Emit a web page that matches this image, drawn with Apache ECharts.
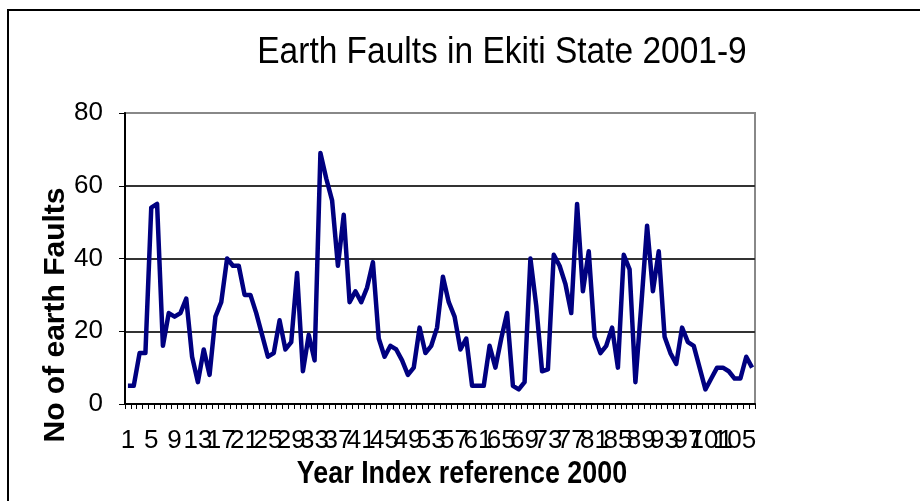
<!DOCTYPE html>
<html>
<head>
<meta charset="utf-8">
<script src="https://cdn.jsdelivr.net/npm/echarts@6/dist/echarts.min.js"></script>
<style>
html,body{margin:0;padding:0;background:#fff;}
#chart{width:920px;height:501px;}
</style>
</head>
<body>
<div id="chart"></div>
<script>
var titleText = 'Earth Faults in Ekiti State 2001-9';
var xAxisTitle = 'Year Index reference 2000';
var yAxisTitle = 'No of earth Faults';
var categories = [1,2,3,4,5,6,7,8,9,10,11,12,13,14,15,16,17,18,19,20,21,22,23,24,25,26,27,28,29,30,
  31,32,33,34,35,36,37,38,39,40,41,42,43,44,45,46,47,48,49,50,51,52,53,54,55,56,57,58,59,60,
  61,62,63,64,65,66,67,68,69,70,71,72,73,74,75,76,77,78,79,80,81,82,83,84,85,86,87,88,89,90,
  91,92,93,94,95,96,97,98,99,100,101,102,103,104,105,106,107,108];
var faults = [5,5,14,14,54,55,16,25,24,25,29,13,6,15,8,24,28,40,38,38,
  30,30,25,19,13,14,23,15,17,36,9,19,12,69,62,56,38,52,28,31,
  28,32,39,18,13,16,15,12,8,10,21,14,16,21,35,28,24,15,18,5,
  5,5,16,10,18,25,5,4,6,40,27,9,9.5,41,38,33,25,55,31,42,
  18.5,14,16,21,10,41,37,6,27,49,31,42,18.5,14,11,21,17,16,10,4,
  7,10,10,9,7,7,13,10];
var yTicks = [0,20,40,60,80];
var labelEvery = 4;

var chart = echarts.init(document.getElementById('chart'));
var regular = "'Liberation Sans', Arial, sans-serif";
chart.setOption({
  animation: false,
  backgroundColor: '#fff',
  grid: {left: 125, right: 165, top: 113, bottom: 97, show: true, borderColor: '#888', borderWidth: 2, backgroundColor: 'transparent'},
  xAxis: {
    type: 'category',
    data: categories,
    boundaryGap: true,
    axisLine: {lineStyle: {color: '#000', width: 2}},
    axisTick: {show: true, interval: 0, length: 5, lineStyle: {color: '#000', width: 1}},
    axisLabel: {
      interval: 0,
      formatter: function (value, index) { return index % labelEvery === 0 ? String(value) : ''; },
      hideOverlap: false, showMinLabel: true, showMaxLabel: true,
      margin: 24, color: '#000', fontFamily: regular, fontSize: 26
    },
    splitLine: {show: false}
  },
  yAxis: {
    type: 'value',
    min: yTicks[0],
    max: yTicks[yTicks.length - 1],
    interval: 20,
    axisLine: {show: true, lineStyle: {color: '#000', width: 2}},
    axisTick: {show: true, length: 6, lineStyle: {color: '#000', width: 1}},
    axisLabel: {margin: 22, color: '#000', fontFamily: regular, fontSize: 26},
    splitLine: {show: true, lineStyle: {color: ['#000', '#333', '#333', '#333', '#888'], width: 2}}
  },
  series: [{
    type: 'line',
    data: faults,
    symbol: 'none',
    lineStyle: {color: '#000080', width: 4.5, join: 'round'},
    itemStyle: {color: '#000080'}
  }],
  graphic: [
    {type: 'rect', shape: {x: 8, y: 10, width: 1000, height: 600}, style: {fill: 'none', stroke: '#000', lineWidth: 2}, silent: true, z: -10},
    {type: 'text', x: 502, y: 53, scaleX: 0.93, style: {text: titleText, fill: '#000', font: "36px " + regular, textAlign: 'center', textVerticalAlign: 'middle'}},
    {type: 'text', x: 462, y: 474, scaleX: 0.84, style: {text: xAxisTitle, fill: '#000', font: "bold 32px " + regular, textAlign: 'center', textVerticalAlign: 'middle'}},
    {type: 'text', x: 56, y: 315, rotation: Math.PI / 2, style: {text: yAxisTitle, fill: '#000', font: "bold 30px " + regular, textAlign: 'center', textVerticalAlign: 'middle'}}
  ]
});
</script>
</body>
</html>
